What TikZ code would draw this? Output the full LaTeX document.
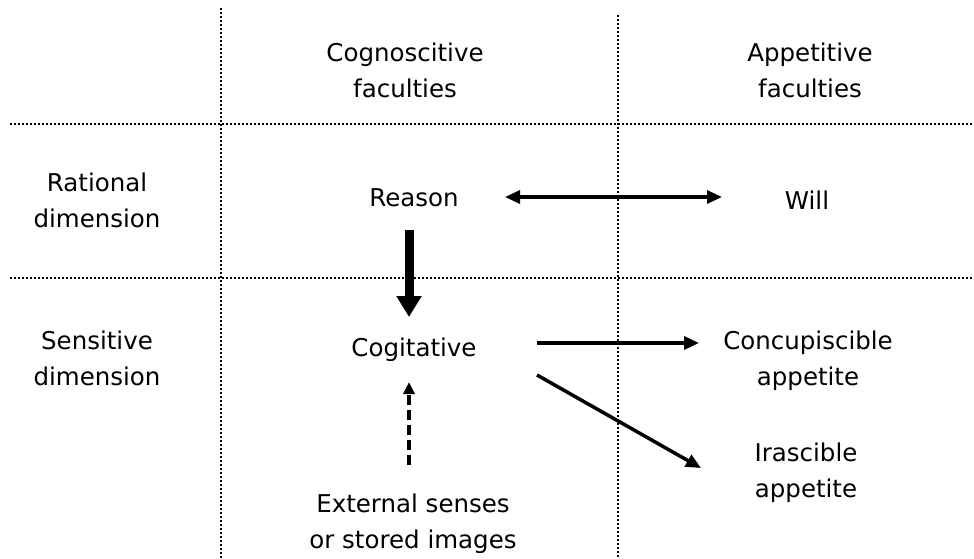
\documentclass[tikz,border=0pt]{standalone}
\usepackage{fontspec}
\setmainfont{DejaVu Sans}
\usetikzlibrary{arrows.meta}
\begin{document}
\begin{tikzpicture}[x=1pt,y=-1pt,
  grid/.style={line width=2pt,dash pattern=on 2pt off 2pt},
  lbl/.style={align=center,font=\fontsize{24.5}{36}\selectfont,inner sep=0pt},
  thin arrow/.style={line width=3.5pt,-{Triangle[length=15pt,width=13pt]}},
  both arrow/.style={line width=3.2pt,{Triangle[length=15pt,width=13pt]}-{Triangle[length=15pt,width=13pt]}},
  fat arrow/.style={line width=9pt,-{Triangle[length=21pt,width=24pt]}},
  dash arrow/.style={line width=3.8pt,dash pattern=on 10pt off 5pt,-{Triangle[length=12pt,width=11pt]}}]
\useasboundingbox (0,0) rectangle (974,559);
\fill[white] (0,0) rectangle (974,559);
% grid
\coordinate (v1t) at (221,8);   \coordinate (v1b) at (221,559);
\coordinate (v2t) at (618,15);  \coordinate (v2b) at (618,559);
\coordinate (h1l) at (10,124);  \coordinate (h1r) at (974,124);
\coordinate (h2l) at (10,278);  \coordinate (h2r) at (974,278);
\draw[grid] (v1t) -- (v1b);
\draw[grid] (v2t) -- (v2b);
\draw[grid] (h1l) -- (h1r);
\draw[grid] (h2l) -- (h2r);
% labels
\node[lbl] (cog) at (405,70) {Cognoscitive\\faculties};
\node[lbl] (app) at (810,70) {Appetitive\\faculties};
\node[lbl] (rat) at (97,200) {Rational\\dimension};
\node[lbl] (sen) at (97,358) {Sensitive\\dimension};
\node[lbl] (reason) at (414,198) {Reason};
\node[lbl] (will) at (807,200) {Will};
\node[lbl] (cogit) at (414,350) {Cogitative};
\node[lbl] (conc) at (808,361) {Concupiscible\\appetite};
\node[lbl] (iras) at (806,473) {Irascible\\appetite};
\node[lbl] (ext) at (413,524) {External senses\\or stored images};
% connectors
\coordinate (rw1) at (505,197); \coordinate (rw2) at (722,197);
\coordinate (rc1) at (409,230); \coordinate (rc2) at (409,317);
\coordinate (ec1) at (409,465); \coordinate (ec2) at (409,382);
\coordinate (cc1) at (537,343); \coordinate (cc2) at (699,343);
\coordinate (ci1) at (537,375); \coordinate (ci2) at (701,468);
\draw[both arrow] (rw1) -- (rw2);
\draw[fat arrow] (rc1) -- (rc2);
\draw[dash arrow] (ec1) -- (ec2);
\draw[thin arrow] (cc1) -- (cc2);
\draw[thin arrow] (ci1) -- (ci2);
\end{tikzpicture}
\end{document}
